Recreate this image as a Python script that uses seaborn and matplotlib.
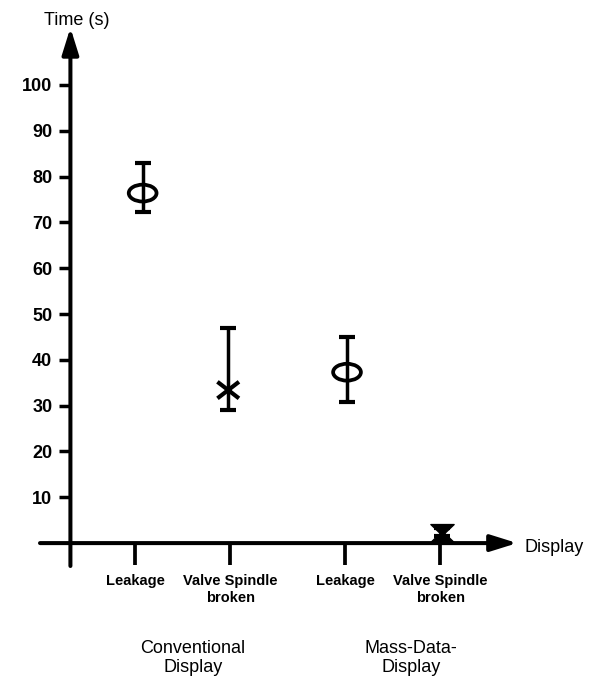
import numpy as np
import pandas as pd
import matplotlib
matplotlib.use("Agg")
import matplotlib.pyplot as plt
import seaborn as sns
from matplotlib.path import Path
from matplotlib.transforms import Affine2D

# data
categories = ["Leakage", "Valve Spindle\nbroken", "Leakage", "Valve Spindle\nbroken"]
groups = ["Conventional\nDisplay", "Mass-Data-\nDisplay"]
time_mean = [76.4, 33.4, 37.3, 2.3]
time_low = [72.3, 29.0, 30.8, 1.5]
time_high = [83.0, 46.9, 45.0, 3.2]
marker_kind = ["circle", "cross", "circle", "hourglass"]
y_ticks = [10, 20, 30, 40, 50, 60, 70, 80, 90, 100]

sns.set_style("white")
plt.rcParams["font.family"] = ["Liberation Sans", "DejaVu Sans"]
plt.rcParams["text.color"] = "black"
plt.rcParams["xtick.color"] = "black"
plt.rcParams["ytick.color"] = "black"

# layout (category positions on the display axis)
cat_x = [1.0, 2.0, 3.21, 4.21]
mark_x = [1.08, 1.98, 3.23, 4.23]
group_x = [1.61, 3.9]
y_axis_x = 0.32

df = pd.DataFrame({"x": mark_x, "time": time_mean, "kind": marker_kind})

fig = plt.figure(figsize=(5.94, 6.79), dpi=100)
ax = fig.add_axes([40 / 594, (679 - 566) / 679, 480 / 594, 536 / 679])
ax.set_xlim(0.0, 5.05)
ax.set_ylim(-5.0, 112.0)

# error bars
err = [np.array(time_mean) - np.array(time_low), np.array(time_high) - np.array(time_mean)]
ax.errorbar(mark_x, time_mean, yerr=err, fmt="none", ecolor="black",
            elinewidth=2.5, capsize=5.5, capthick=3.0, zorder=2)

# marker shapes
ellipse = Path.unit_circle().transformed(Affine2D().scale(1.65, 1.0))
cross = Path([(-1.3, -1), (1.3, 1), (-1.3, 1), (1.3, -1)],
             [Path.MOVETO, Path.LINETO, Path.MOVETO, Path.LINETO])
hourglass = Path([(-1.3, 1.0), (1.3, 1.0), (0.25, 0.0), (1.3, -1.0),
                  (-1.3, -1.0), (-0.25, 0.0), (-1.3, 1.0)], closed=True)

sub = df[df["kind"] == "circle"]
sns.scatterplot(data=sub, x="x", y="time", marker=ellipse, s=400,
                facecolor="none", edgecolor="black", linewidth=2.7, ax=ax, zorder=3)
sub = df[df["kind"] == "cross"]
sns.scatterplot(data=sub, x="x", y="time", marker=cross, s=240,
                facecolor="none", edgecolor="black", linewidth=3.0, ax=ax, zorder=3)
sub = df[df["kind"] == "hourglass"]
sns.scatterplot(data=sub, x="x", y="time", marker=hourglass, s=280,
                facecolor="black", edgecolor="black", linewidth=1, ax=ax, zorder=3)

# axes: spines hidden, arrows drawn instead
for s in ax.spines.values():
    s.set_color("none")
ax.spines["left"].set_position(("data", y_axis_x))
ax.spines["bottom"].set_position(("data", 0))

ax.annotate("", xy=(y_axis_x, 112.5), xytext=(y_axis_x, -5.0),
            arrowprops=dict(arrowstyle="-|>,head_length=1.6,head_width=0.5",
                            lw=2.9, color="black", shrinkA=0, shrinkB=0),
            annotation_clip=False)
ax.annotate("", xy=(5.02, 0), xytext=(0.0, 0),
            arrowprops=dict(arrowstyle="-|>,head_length=1.6,head_width=0.5",
                            lw=2.9, color="black", shrinkA=0, shrinkB=0),
            annotation_clip=False)

ax.set_yticks(y_ticks)
ax.set_yticklabels([str(v) for v in y_ticks], fontsize=13, fontweight="bold")
ax.tick_params(axis="y", left=True, direction="out", length=8, width=2.5,
               color="black", labelcolor="black", pad=5)
ax.set_xticks(cat_x)
ax.set_xticklabels(categories, fontsize=10.5, fontweight="bold", linespacing=1.3)
ax.tick_params(axis="x", bottom=True, direction="out", length=16, width=2.7,
               color="black", labelcolor="black", pad=6)

ax.set_xlabel("")
ax.set_ylabel("")

for gx, g in zip(group_x, groups):
    ax.text(gx, -25, g, ha="center", va="center", fontsize=13,
            linespacing=1.15, color="black", clip_on=False)

ax.text(0.39, 114.0, "Time (s)", ha="center", va="center", fontsize=13,
        color="black", clip_on=False)
ax.text(5.1, -1.0, "Display", ha="left", va="center", fontsize=13,
        color="black", clip_on=False)

fig.savefig("out.png", dpi=100)
